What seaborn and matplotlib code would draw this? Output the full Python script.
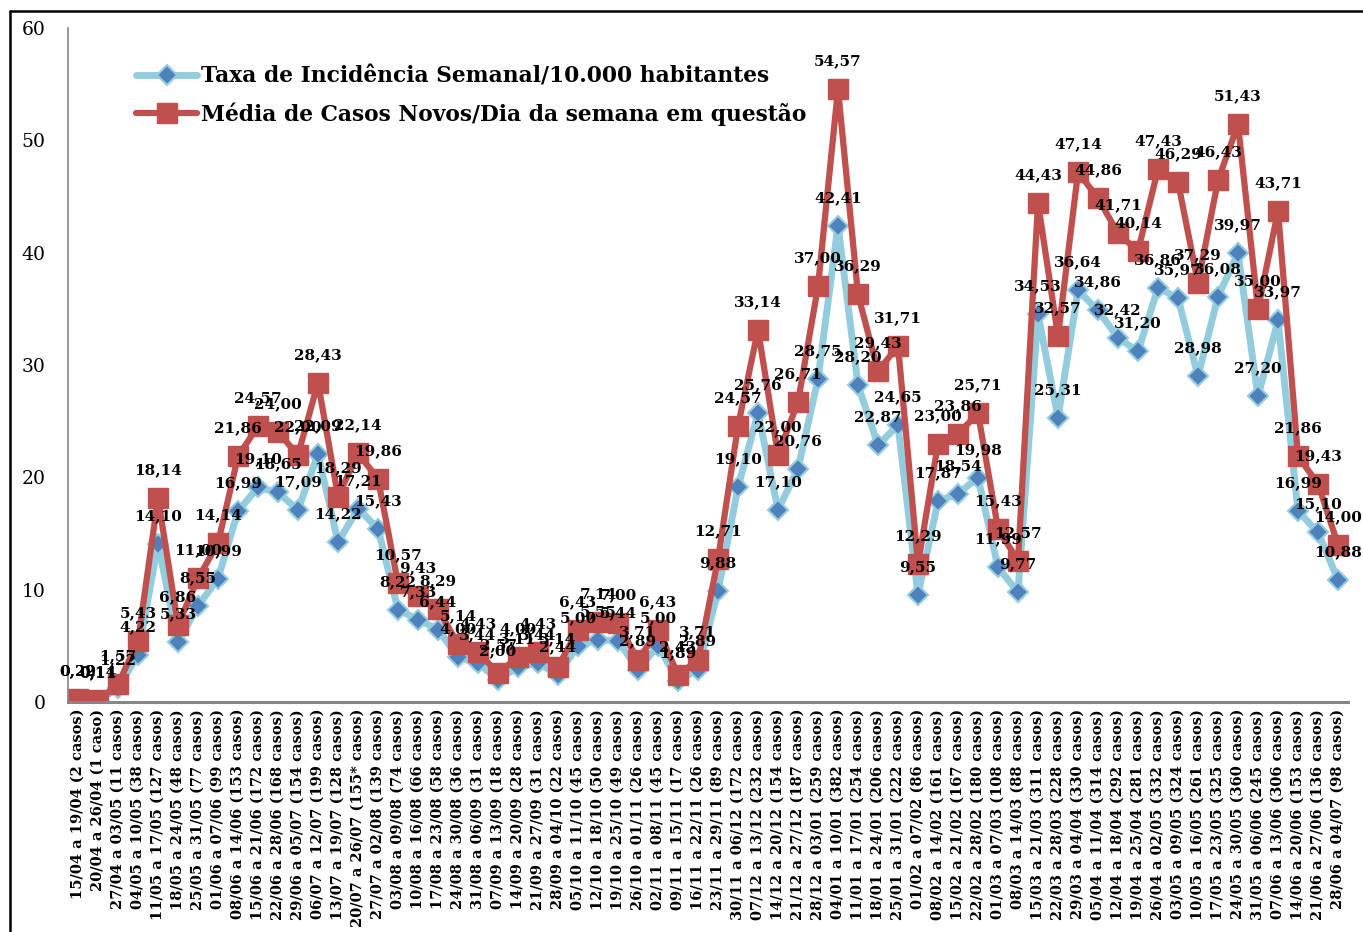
import numpy as np
import pandas as pd
import matplotlib.pyplot as plt
from matplotlib.lines import Line2D
import seaborn as sns

semanas = ['15/04 a 19/04 (2 casos)', '20/04 a 26/04 (1 caso)', '27/04 a 03/05 (11 casos)',
           '04/05 a 10/05 (38 casos)', '11/05 a 17/05 (127 casos)', '18/05 a 24/05 (48 casos)',
           '25/05 a 31/05 (77 casos)', '01/06 a 07/06 (99 casos)', '08/06 a 14/06 (153 casos)',
           '15/06 a 21/06 (172 casos)', '22/06 a 28/06 (168 casos)', '29/06 a 05/07 (154 casos)',
           '06/07 a 12/07 (199 casos)', '13/07 a 19/07 (128 casos)', '20/07 a 26/07 (155* casos)',
           '27/07 a 02/08 (139 casos)', '03/08 a 09/08 (74 casos)', '10/08 a 16/08 (66 casos)',
           '17/08 a 23/08 (58 casos)', '24/08 a 30/08 (36 casos)', '31/08 a 06/09 (31 casos)',
           '07/09 a 13/09 (18 casos)', '14/09 a 20/09 (28 casos)', '21/09 a 27/09 (31 casos)',
           '28/09 a 04/10 (22 casos)', '05/10 a 11/10 (45 casos)', '12/10 a 18/10 (50 casos)',
           '19/10 a 25/10 (49 casos)', '26/10 a 01/11 (26 casos)', '02/11 a 08/11 (45 casos)',
           '09/11 a 15/11 (17 casos)', '16/11 a 22/11 (26 casos)', '23/11 a 29/11 (89 casos)',
           '30/11 a 06/12 (172 casos)', '07/12 a 13/12 (232 casos)', '14/12 a 20/12 (154 casos)',
           '21/12 a 27/12 (187 casos)', '28/12 a 03/01 (259 casos)', '04/01 a 10/01 (382 casos)',
           '11/01 a 17/01 (254 casos)', '18/01 a 24/01 (206 casos)', '25/01 a 31/01 (222 casos)',
           '01/02 a 07/02 (86 casos)', '08/02 a 14/02 (161 casos)', '15/02 a 21/02 (167 casos)',
           '22/02 a 28/02 (180 casos)', '01/03 a 07/03 (108 casos)', '08/03 a 14/03 (88 casos)',
           '15/03 a 21/03 (311 casos)', '22/03 a 28/03 (228 casos)', '29/03 a 04/04 (330 casos)',
           '05/04 a 11/04 (314 casos)', '12/04 a 18/04 (292 casos)', '19/04 a 25/04 (281 casos)',
           '26/04 a 02/05 (332 casos)', '03/05 a 09/05 (324 casos)', '10/05 a 16/05 (261 casos)',
           '17/05 a 23/05 (325 casos)', '24/05 a 30/05 (360 casos)', '31/05 a 06/06 (245 casos)',
           '07/06 a 13/06 (306 casos)', '14/06 a 20/06 (153 casos)', '21/06 a 27/06 (136 casos)',
           '28/06 a 04/07 (98 casos)']

taxa = [0.22, 0.11, 1.22, 4.22, 14.10, 5.33, 8.55, 10.99, 16.99, 19.10, 18.65, 17.09, 22.09, 14.22,
        17.21, 15.43, 8.22, 7.33, 6.44, 4.00, 3.44, 2.00, 3.11, 3.44, 2.44, 5.00, 5.55, 5.44, 2.89,
        5.00, 1.89, 2.89, 9.88, 19.10, 25.76, 17.10, 20.76, 28.75, 42.41, 28.20, 22.87, 24.65, 9.55,
        17.87, 18.54, 19.98, 11.99, 9.77, 34.53, 25.31, 36.64, 34.86, 32.42, 31.20, 36.86, 35.97,
        28.98, 36.08, 39.97, 27.20, 33.97, 16.99, 15.10, 10.88]

media = [0.29, 0.14, 1.57, 5.43, 18.14, 6.86, 11.00, 14.14, 21.86, 24.57, 24.00, 22.00, 28.43, 18.29,
         22.14, 19.86, 10.57, 9.43, 8.29, 5.14, 4.43, 2.57, 4.00, 4.43, 3.14, 6.43, 7.14, 7.00, 3.71,
         6.43, 2.43, 3.71, 12.71, 24.57, 33.14, 22.00, 26.71, 37.00, 54.57, 36.29, 29.43, 31.71, 12.29,
         23.00, 23.86, 25.71, 15.43, 12.57, 44.43, 32.57, 47.14, 44.86, 41.71, 40.14, 47.43, 46.29,
         37.29, 46.43, 51.43, 35.00, 43.71, 21.86, 19.43, 14.00]

nome_taxa = 'Taxa de Incidência Semanal/10.000 habitantes'
nome_media = 'Média de Casos Novos/Dia da semana em questão'

sns.set_style('white')
plt.rcParams['font.family'] = ['DejaVu Serif']
plt.rcParams['text.color'] = 'black'
plt.rcParams['xtick.color'] = 'black'
plt.rcParams['ytick.color'] = 'black'

df = pd.DataFrame({'semana': semanas, 'taxa': taxa, 'media': media})

fig = plt.figure(figsize=(13.63, 9.32), dpi=100)
ax = fig.add_axes([0.0499, 0.2468, 0.9391, 0.7232])

sns.lineplot(data=df, x='semana', y='taxa', ax=ax, sort=False, color='#93CDDD', linewidth=5,
             marker='D', markersize=10, markerfacecolor='#4F81BD', markeredgecolor='#93CDDD',
             markeredgewidth=1.5, label=nome_taxa)
sns.lineplot(data=df, x='semana', y='media', ax=ax, sort=False, color='#C0504D', linewidth=4.5,
             marker='s', markersize=14, markerfacecolor='#C0504D', markeredgecolor='#C0504D',
             markeredgewidth=1, label=nome_media)

for serie in [taxa, media]:
    for i, v in enumerate(serie):
        ax.annotate(f'{v:.2f}'.replace('.', ','), (i, v), xytext=(0, 15), textcoords='offset points',
                    ha='center', va='bottom', fontsize=11, fontweight='bold', color='black', zorder=5)

ax.set_xlim(-0.5, len(semanas) - 0.5)
ax.set_ylim(0, 60)
ax.set_yticks(range(0, 61, 10))
ax.set_xlabel('')
ax.set_ylabel('')
ax.tick_params(axis='y', length=0, pad=16, labelsize=13.5)
ax.tick_params(axis='x', length=0, pad=5)
ax.set_xticks(range(len(semanas)))
ax.set_xticklabels(semanas, rotation=90, fontsize=10.5, fontweight='bold', va='top', ha='center')

sns.despine(ax=ax)
ax.spines['left'].set_color('#868686')
ax.spines['left'].set_linewidth(1.2)
ax.spines['bottom'].set_color('#868686')
ax.spines['bottom'].set_linewidth(2.2)

ax.legend(loc='upper left', bbox_to_anchor=(0.1, 0.93), bbox_transform=fig.transFigure,
          frameon=False, prop={'weight': 'bold', 'size': 15.7}, handlelength=2.8,
          handletextpad=0.15, labelspacing=0.7, borderpad=0, borderaxespad=0)

# moldura do gráfico
fig.add_artist(Line2D([10 / 1363, 10 / 1363], [0, 1 - 11 / 932], color='black', linewidth=1.8))
fig.add_artist(Line2D([10 / 1363, 1], [1 - 11 / 932, 1 - 11 / 932], color='black', linewidth=1.8))

fig.savefig('out.png', dpi=100)
